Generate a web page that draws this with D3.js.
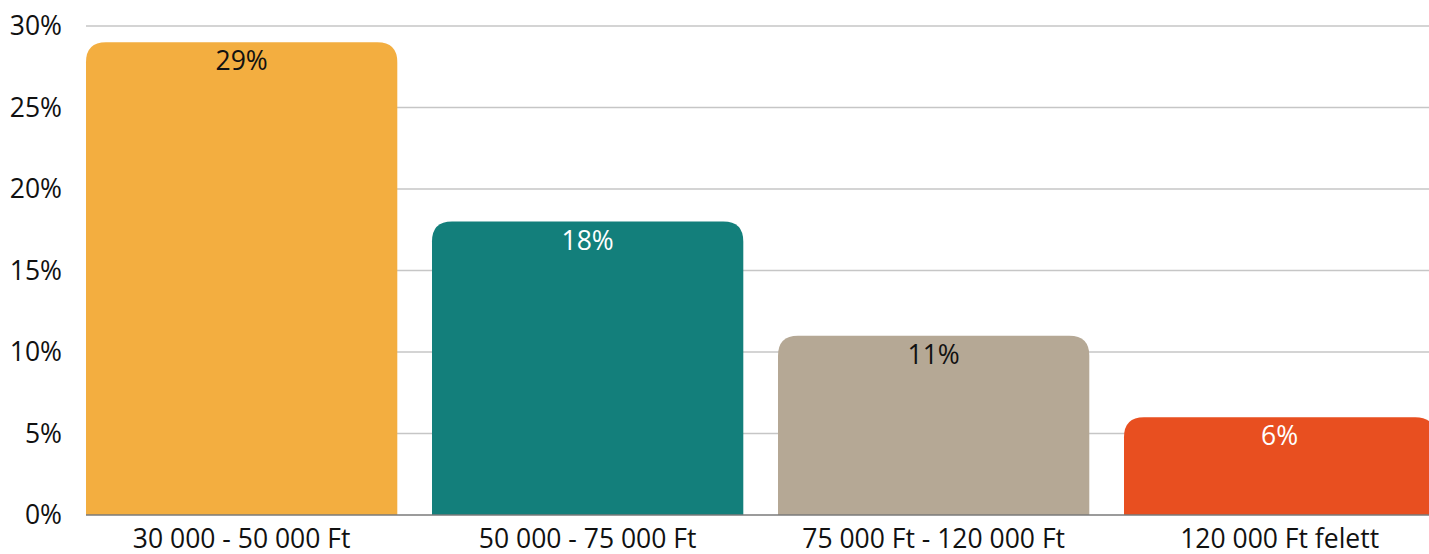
<!DOCTYPE html>
<html>
<head>
<meta charset="utf-8">
<script src="https://cdn.jsdelivr.net/npm/d3@7"></script>
<style>
  html, body { margin: 0; padding: 0; background: #fff; overflow: hidden; }
  svg { display: block; font-family: "Open Sans", "Noto Sans", sans-serif; }
</style>
</head>
<body>
<svg id="chart" width="1429" height="554"></svg>
<script>
// Share of respondents by income bracket
const categories = ["30 000 - 50 000 Ft", "50 000 - 75 000 Ft", "75 000 Ft - 120 000 Ft", "120 000 Ft felett"];
const values = [29, 18, 11, 6];
const barColors = ["#F3AE40", "#137F7B", "#B5A895", "#E84F20"];
const labelColors = ["#111111", "#ffffff", "#111111", "#ffffff"];
const yTicks = [0, 5, 10, 15, 20, 25, 30];

const W = 1429, H = 554;
const plotLeft = 86, plotTop = 26, plotBottom = 515;
const step = 346, bandW = 311.3;
const plotRight = plotLeft + (categories.length - 1) * step + bandW;
const fontSize = 26.5;

const svg = d3.select("#chart");

const x = d3.scaleBand()
  .domain(categories)
  .range([plotLeft, plotRight])
  .paddingInner((step - bandW) / step)
  .paddingOuter(0);

const y = d3.scaleLinear().domain([0, 30]).range([plotBottom, plotTop]);

// gridlines
svg.append("g")
  .selectAll("line")
  .data(yTicks.filter(d => d > 0))
  .join("line")
  .attr("x1", plotLeft).attr("x2", W)
  .attr("y1", d => y(d)).attr("y2", d => y(d))
  .attr("stroke", "#c6c6c6").attr("stroke-width", 1.3);

// y axis labels
svg.append("g")
  .selectAll("text")
  .data(yTicks)
  .join("text")
  .attr("x", 62)
  .attr("y", d => y(d))
  .attr("dy", "0.35em")
  .attr("text-anchor", "end")
  .attr("font-size", fontSize)
  .attr("fill", "#111")
  .text(d => d + "%");

// bars with rounded top corners
const r = 20;
function topRounded(x0, y0, w, h) {
  const rr = Math.min(r, h, w / 2);
  return `M${x0},${y0 + h}V${y0 + rr}Q${x0},${y0} ${x0 + rr},${y0}H${x0 + w - rr}Q${x0 + w},${y0} ${x0 + w},${y0 + rr}V${y0 + h}Z`;
}

svg.append("g")
  .selectAll("path")
  .data(values)
  .join("path")
  .attr("d", (d, i) => topRounded(x(categories[i]), y(d), x.bandwidth(), y(0) - y(d)))
  .attr("fill", (d, i) => barColors[i]);

// baseline
svg.append("line")
  .attr("x1", plotLeft).attr("x2", W)
  .attr("y1", y(0)).attr("y2", y(0))
  .attr("stroke", "#7a7a7a").attr("stroke-width", 1.5);

// value labels
svg.append("g")
  .selectAll("text")
  .data(values)
  .join("text")
  .attr("x", (d, i) => x(categories[i]) + x.bandwidth() / 2)
  .attr("y", d => y(d) + 28)
  .attr("text-anchor", "middle")
  .attr("font-size", fontSize)
  .attr("fill", (d, i) => labelColors[i])
  .text(d => d + "%");

// category labels
svg.append("g")
  .selectAll("text")
  .data(categories)
  .join("text")
  .attr("x", d => x(d) + x.bandwidth() / 2)
  .attr("y", 548)
  .attr("text-anchor", "middle")
  .attr("font-size", fontSize)
  .attr("fill", "#111")
  .text(d => d);
</script>
</body>
</html>
